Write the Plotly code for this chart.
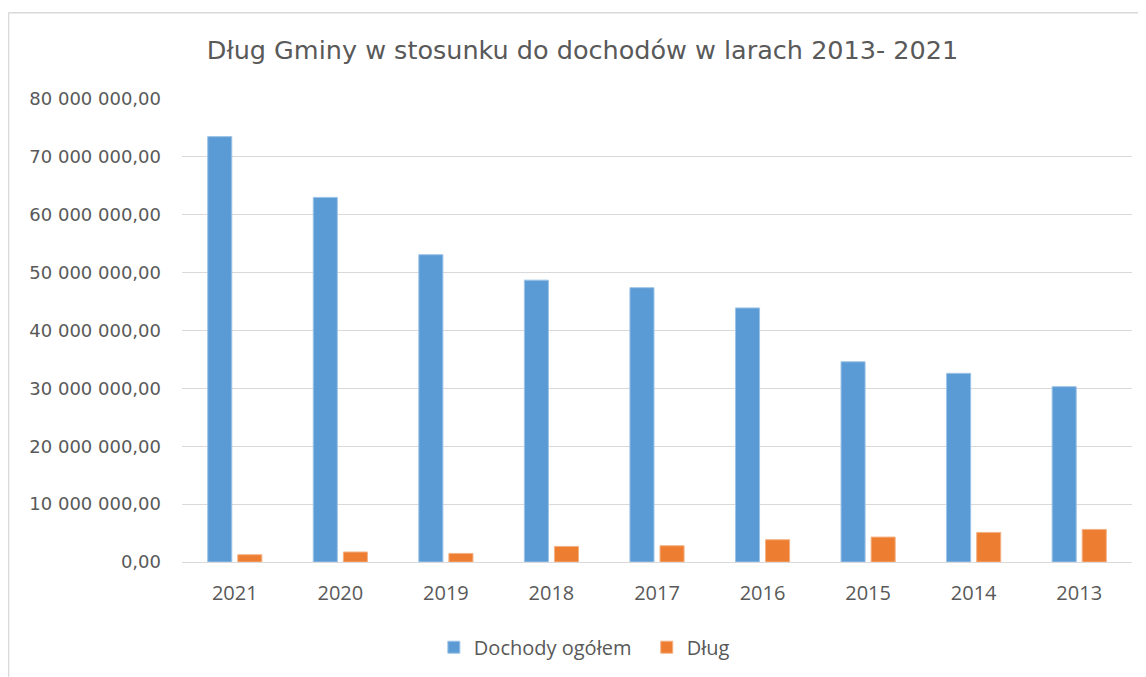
import plotly.graph_objects as go

years = ["2021", "2020", "2019", "2018", "2017", "2016", "2015", "2014", "2013"]
dochody = [73.5e6, 63.0e6, 53.1e6, 48.7e6, 47.4e6, 43.9e6, 34.6e6, 32.6e6, 30.3e6]
dlug = [1.26e6, 1.73e6, 1.48e6, 2.69e6, 2.81e6, 3.85e6, 4.31e6, 5.11e6, 5.63e6]
y_ticks = [0, 10e6, 20e6, 30e6, 40e6, 50e6, 60e6, 70e6, 80e6]

title_text = "Dług Gminy w stosunku do dochodów w larach 2013- 2021"
grey = "#595959"

# page has an 8px body margin; figure is sized to fill the rest of the window
W, H = 1138, 669

fig = go.Figure()
fig.add_trace(go.Bar(x=years, y=dochody, name="Dochody ogółem", legend="legend",
                     marker=dict(color="#5B9BD5", line=dict(color="#9DC3E6", width=1))))
fig.add_trace(go.Bar(x=years, y=dlug, name="Dług", legend="legend2",
                     marker=dict(color="#ED7D31", line=dict(color="#F4B183", width=1))))

legend_font = dict(family="Open Sans", size=20, color=grey)
fig.update_layout(
    width=W, height=H,
    paper_bgcolor="white", plot_bgcolor="white",
    margin=dict(l=174, r=13.5, t=91.3, b=114.7, autoexpand=False),
    barmode="group", bargap=0.43, bargroupgap=0.2,
    separators=", ",
    title=dict(text=title_text, x=574.5 / W, xanchor="center", xref="container",
               y=1 - 42 / H, yanchor="middle", yref="container",
               font=dict(family="DejaVu Sans", size=25.5, color=grey)),
    legend=dict(orientation="h", x=0.2651, xanchor="left", y=-0.184, yanchor="middle",
                font=legend_font, itemwidth=30),
    legend2=dict(orientation="h", x=0.4892, xanchor="left", y=-0.184, yanchor="middle",
                 font=legend_font, itemwidth=30),
    showlegend=True,
)
fig.update_xaxes(showgrid=False, showline=False, ticks="", ticklabelstandoff=17,
                 tickfont=dict(family="Open Sans", size=20, color=grey))
fig.update_yaxes(range=[0, 80e6], tickvals=y_ticks, tickformat=",.2f",
                 showgrid=True, gridcolor="#D9D9D9", gridwidth=1.2,
                 zeroline=True, zerolinecolor="#D9D9D9", zerolinewidth=1.2,
                 showline=False, ticks="", ticklabelstandoff=20,
                 tickfont=dict(family="DejaVu Sans", size=18, color=grey))

# chart border
fig.add_shape(type="line", xref="paper", yref="paper",
              x0=-0.1826, x1=-0.1826, y0=-0.2477, y1=1.1864,
              line=dict(color="#D9D9D9", width=1.5))
fig.add_shape(type="line", xref="paper", yref="paper",
              x0=-0.1826, x1=1.0142, y0=1.1864, y1=1.1864,
              line=dict(color="#D9D9D9", width=1.5))

fig.write_html("out.html")
